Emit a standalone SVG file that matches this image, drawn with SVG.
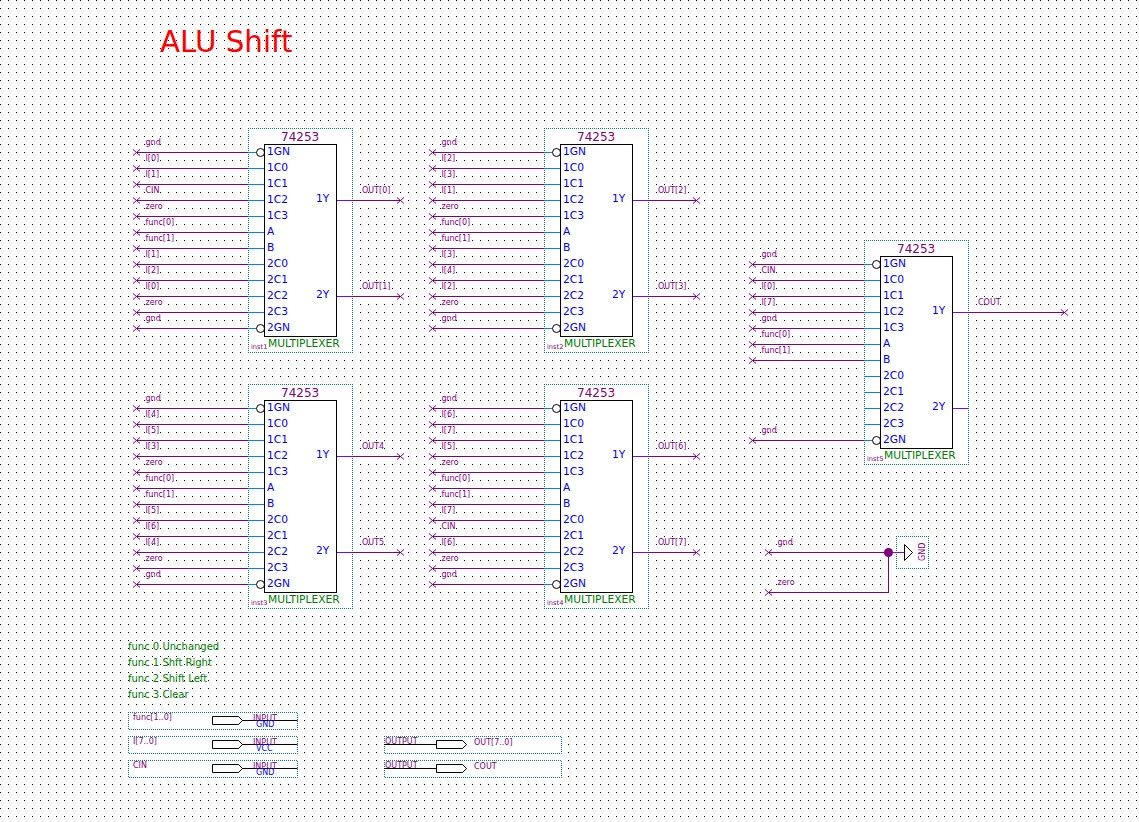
<svg xmlns="http://www.w3.org/2000/svg" width="1139" height="822" viewBox="0 0 1139 822">
<style>
text{font-family:"DejaVu Sans",Verdana,sans-serif}
.frame{fill:#fff;stroke:#008080;stroke-width:1;stroke-dasharray:1 1;stroke-dashoffset:.5}
.box{fill:#fff;stroke:#000;stroke-width:1}
.stub{fill:none;stroke:#0080ff;stroke-width:1}
.ostub{fill:none;stroke:#8000ff;stroke-width:1}
.bub{fill:#fff;stroke:#000;stroke-width:1}
.pin{font-size:10.67px;fill:#0000ff}
.part{font-size:12px;fill:#800080}
.kind{font-size:10.67px;fill:#008000}
.inst{font-size:6.67px;fill:#800080}
.wire{fill:none;stroke:#800080;stroke-width:1}
.in{marker-start:url(#x)}
.out{marker-end:url(#x)}
.lbl{font-size:8px;fill:#800080}
.note{font-size:10px;fill:#008000}
.ty{font-size:8px;fill:#800080}
.def{font-size:8px;fill:#0000ff}
.pinshape{fill:#fff;stroke:#000;stroke-width:1}
.blk{fill:none;stroke:#000;stroke-width:1}
</style>
<defs>
<pattern id="grid" width="8" height="8" patternUnits="userSpaceOnUse"><rect width="1" height="1" fill="#000"/></pattern>
<marker id="x" markerUnits="userSpaceOnUse" markerWidth="10" markerHeight="8" refX="4.5" refY="4" orient="0" overflow="visible"><path d="M1 1L8 7M1 7L8 1" fill="none" stroke="#800080" stroke-width="1"/></marker>
<path id="stubs" d="M-16 8.5H-8M-16 24.5H0M-16 40.5H0M-16 56.5H0M-16 72.5H0M-16 88.5H0M-16 104.5H0M-16 120.5H0M-16 136.5H0M-16 152.5H0M-16 168.5H0M-16 184.5H-8"/>
</defs>
<rect id="background" width="1139" height="822" fill="#fff"/>
<rect id="dot-grid" width="1139" height="822" fill="url(#grid)"/>
<text id="title" x="160" y="52" font-size="29.33" fill="#ff0000">ALU Shift</text>

<g id="inst1" transform="translate(264 144)">
<rect class="frame" x="-15.5" y="-15.5" width="104" height="224"/>
<use href="#stubs" class="stub"/><path class="ostub" d="M72 56.5H88M72 152.5H88"/>
<circle class="bub" cx="-3.5" cy="8.5" r="4"/><circle class="bub" cx="-3.5" cy="184.5" r="4"/>
<rect class="box" x="0.5" y="0.5" width="72" height="192"/>
<text class="part" x="17" y="-3">74253</text>
<g class="pin"><text x="3" y="11">1GN</text><text x="3" y="27">1C0</text><text x="3" y="43">1C1</text><text x="3" y="59">1C2</text><text x="3" y="75">1C3</text><text x="3" y="91">A</text><text x="3" y="107">B</text><text x="3" y="123">2C0</text><text x="3" y="139">2C1</text><text x="3" y="155">2C2</text><text x="3" y="171">2C3</text><text x="3" y="187">2GN</text><text x="52" y="58">1Y</text><text x="52" y="154">2Y</text></g>
<text class="kind" x="4" y="203">MULTIPLEXER</text><text class="inst" x="-13" y="205">inst1</text>
</g>
<g id="inst2" transform="translate(560 144)">
<rect class="frame" x="-15.5" y="-15.5" width="104" height="224"/>
<use href="#stubs" class="stub"/><path class="ostub" d="M72 56.5H88M72 152.5H88"/>
<circle class="bub" cx="-3.5" cy="8.5" r="4"/><circle class="bub" cx="-3.5" cy="184.5" r="4"/>
<rect class="box" x="0.5" y="0.5" width="72" height="192"/>
<text class="part" x="17" y="-3">74253</text>
<g class="pin"><text x="3" y="11">1GN</text><text x="3" y="27">1C0</text><text x="3" y="43">1C1</text><text x="3" y="59">1C2</text><text x="3" y="75">1C3</text><text x="3" y="91">A</text><text x="3" y="107">B</text><text x="3" y="123">2C0</text><text x="3" y="139">2C1</text><text x="3" y="155">2C2</text><text x="3" y="171">2C3</text><text x="3" y="187">2GN</text><text x="52" y="58">1Y</text><text x="52" y="154">2Y</text></g>
<text class="kind" x="4" y="203">MULTIPLEXER</text><text class="inst" x="-13" y="205">inst2</text>
</g>
<g id="inst3" transform="translate(264 400)">
<rect class="frame" x="-15.5" y="-15.5" width="104" height="224"/>
<use href="#stubs" class="stub"/><path class="ostub" d="M72 56.5H88M72 152.5H88"/>
<circle class="bub" cx="-3.5" cy="8.5" r="4"/><circle class="bub" cx="-3.5" cy="184.5" r="4"/>
<rect class="box" x="0.5" y="0.5" width="72" height="192"/>
<text class="part" x="17" y="-3">74253</text>
<g class="pin"><text x="3" y="11">1GN</text><text x="3" y="27">1C0</text><text x="3" y="43">1C1</text><text x="3" y="59">1C2</text><text x="3" y="75">1C3</text><text x="3" y="91">A</text><text x="3" y="107">B</text><text x="3" y="123">2C0</text><text x="3" y="139">2C1</text><text x="3" y="155">2C2</text><text x="3" y="171">2C3</text><text x="3" y="187">2GN</text><text x="52" y="58">1Y</text><text x="52" y="154">2Y</text></g>
<text class="kind" x="4" y="203">MULTIPLEXER</text><text class="inst" x="-13" y="205">inst3</text>
</g>
<g id="inst4" transform="translate(560 400)">
<rect class="frame" x="-15.5" y="-15.5" width="104" height="224"/>
<use href="#stubs" class="stub"/><path class="ostub" d="M72 56.5H88M72 152.5H88"/>
<circle class="bub" cx="-3.5" cy="8.5" r="4"/><circle class="bub" cx="-3.5" cy="184.5" r="4"/>
<rect class="box" x="0.5" y="0.5" width="72" height="192"/>
<text class="part" x="17" y="-3">74253</text>
<g class="pin"><text x="3" y="11">1GN</text><text x="3" y="27">1C0</text><text x="3" y="43">1C1</text><text x="3" y="59">1C2</text><text x="3" y="75">1C3</text><text x="3" y="91">A</text><text x="3" y="107">B</text><text x="3" y="123">2C0</text><text x="3" y="139">2C1</text><text x="3" y="155">2C2</text><text x="3" y="171">2C3</text><text x="3" y="187">2GN</text><text x="52" y="58">1Y</text><text x="52" y="154">2Y</text></g>
<text class="kind" x="4" y="203">MULTIPLEXER</text><text class="inst" x="-13" y="205">inst4</text>
</g>
<g id="inst5" transform="translate(880 256)">
<rect class="frame" x="-15.5" y="-15.5" width="104" height="224"/>
<use href="#stubs" class="stub"/><path class="ostub" d="M72 56.5H88M72 152.5H88"/>
<circle class="bub" cx="-3.5" cy="8.5" r="4"/><circle class="bub" cx="-3.5" cy="184.5" r="4"/>
<rect class="box" x="0.5" y="0.5" width="72" height="192"/>
<text class="part" x="17" y="-3">74253</text>
<g class="pin"><text x="3" y="11">1GN</text><text x="3" y="27">1C0</text><text x="3" y="43">1C1</text><text x="3" y="59">1C2</text><text x="3" y="75">1C3</text><text x="3" y="91">A</text><text x="3" y="107">B</text><text x="3" y="123">2C0</text><text x="3" y="139">2C1</text><text x="3" y="155">2C2</text><text x="3" y="171">2C3</text><text x="3" y="187">2GN</text><text x="52" y="58">1Y</text><text x="52" y="154">2Y</text></g>
<text class="kind" x="4" y="203">MULTIPLEXER</text><text class="inst" x="-13" y="205">inst5</text>
</g>

<g id="gnd-symbol">
<rect class="frame" x="896.5" y="536.5" width="32" height="32"/>
<path class="ostub" d="M893 552.5H904"/>
<path class="pinshape" d="M904.5 544.5L912.5 552.5L904.5 560.5Z"/>
<text class="ty" transform="translate(925 561) rotate(-90)" x="0" y="0">GND</text>
</g>

<g id="connectors">
<g class="wire">
<path class="in" d="M136.5 152.5H248"/><path class="in" d="M136.5 168.5H248"/><path class="in" d="M136.5 184.5H248"/><path class="in" d="M136.5 200.5H248"/><path class="in" d="M136.5 216.5H248"/><path class="in" d="M136.5 232.5H248"/><path class="in" d="M136.5 248.5H248"/><path class="in" d="M136.5 264.5H248"/><path class="in" d="M136.5 280.5H248"/><path class="in" d="M136.5 296.5H248"/><path class="in" d="M136.5 312.5H248"/><path class="in" d="M136.5 328.5H248"/>
<path class="out" d="M352 200.5H400.5"/><path class="out" d="M352 296.5H400.5"/>
<path class="in" d="M432.5 152.5H544"/><path class="in" d="M432.5 168.5H544"/><path class="in" d="M432.5 184.5H544"/><path class="in" d="M432.5 200.5H544"/><path class="in" d="M432.5 216.5H544"/><path class="in" d="M432.5 232.5H544"/><path class="in" d="M432.5 248.5H544"/><path class="in" d="M432.5 264.5H544"/><path class="in" d="M432.5 280.5H544"/><path class="in" d="M432.5 296.5H544"/><path class="in" d="M432.5 312.5H544"/><path class="in" d="M432.5 328.5H544"/>
<path class="out" d="M648 200.5H696.5"/><path class="out" d="M648 296.5H696.5"/>
<path class="in" d="M136.5 408.5H248"/><path class="in" d="M136.5 424.5H248"/><path class="in" d="M136.5 440.5H248"/><path class="in" d="M136.5 456.5H248"/><path class="in" d="M136.5 472.5H248"/><path class="in" d="M136.5 488.5H248"/><path class="in" d="M136.5 504.5H248"/><path class="in" d="M136.5 520.5H248"/><path class="in" d="M136.5 536.5H248"/><path class="in" d="M136.5 552.5H248"/><path class="in" d="M136.5 568.5H248"/><path class="in" d="M136.5 584.5H248"/>
<path class="out" d="M352 456.5H400.5"/><path class="out" d="M352 552.5H400.5"/>
<path class="in" d="M432.5 408.5H544"/><path class="in" d="M432.5 424.5H544"/><path class="in" d="M432.5 440.5H544"/><path class="in" d="M432.5 456.5H544"/><path class="in" d="M432.5 472.5H544"/><path class="in" d="M432.5 488.5H544"/><path class="in" d="M432.5 504.5H544"/><path class="in" d="M432.5 520.5H544"/><path class="in" d="M432.5 536.5H544"/><path class="in" d="M432.5 552.5H544"/><path class="in" d="M432.5 568.5H544"/><path class="in" d="M432.5 584.5H544"/>
<path class="out" d="M648 456.5H696.5"/><path class="out" d="M648 552.5H696.5"/>
<path class="in" d="M752.5 264.5H864"/><path class="in" d="M752.5 280.5H864"/><path class="in" d="M752.5 296.5H864"/><path class="in" d="M752.5 312.5H864"/><path class="in" d="M752.5 328.5H864"/><path class="in" d="M752.5 344.5H864"/><path class="in" d="M752.5 360.5H864"/><path class="in" d="M752.5 440.5H864"/>
<path class="out" d="M968 312.5H1064.5"/>
<path class="in" d="M768.5 552.5H888.5"/><path class="in" d="M768.5 592.5H888.5V552.5"/>
</g>
<circle cx="888.5" cy="552.5" r="4.5" fill="#800080"/>
<g class="lbl">
<text x="145.5" y="145">gnd</text><text x="145.5" y="161">I[0]</text><text x="145.5" y="177">I[1]</text><text x="145.5" y="193">CIN</text><text x="145.5" y="209">zero</text><text x="145.5" y="225">func[0]</text><text x="145.5" y="241">func[1]</text><text x="145.5" y="257">I[1]</text><text x="145.5" y="273">I[2]</text><text x="145.5" y="289">I[0]</text><text x="145.5" y="305">zero</text><text x="145.5" y="321">gnd</text>
<text x="362" y="193">OUT[0]</text><text x="362" y="289">OUT[1]</text>
<text x="441.5" y="145">gnd</text><text x="441.5" y="161">I[2]</text><text x="441.5" y="177">I[3]</text><text x="441.5" y="193">I[1]</text><text x="441.5" y="209">zero</text><text x="441.5" y="225">func[0]</text><text x="441.5" y="241">func[1]</text><text x="441.5" y="257">I[3]</text><text x="441.5" y="273">I[4]</text><text x="441.5" y="289">I[2]</text><text x="441.5" y="305">zero</text><text x="441.5" y="321">gnd</text>
<text x="658" y="193">OUT[2]</text><text x="658" y="289">OUT[3]</text>
<text x="145.5" y="401">gnd</text><text x="145.5" y="417">I[4]</text><text x="145.5" y="433">I[5]</text><text x="145.5" y="449">I[3]</text><text x="145.5" y="465">zero</text><text x="145.5" y="481">func[0]</text><text x="145.5" y="497">func[1]</text><text x="145.5" y="513">I[5]</text><text x="145.5" y="529">I[6]</text><text x="145.5" y="545">I[4]</text><text x="145.5" y="561">zero</text><text x="145.5" y="577">gnd</text>
<text x="362" y="449">OUT4</text><text x="362" y="545">OUT5</text>
<text x="441.5" y="401">gnd</text><text x="441.5" y="417">I[6]</text><text x="441.5" y="433">I[7]</text><text x="441.5" y="449">I[5]</text><text x="441.5" y="465">zero</text><text x="441.5" y="481">func[0]</text><text x="441.5" y="497">func[1]</text><text x="441.5" y="513">I[7]</text><text x="441.5" y="529">CIN</text><text x="441.5" y="545">I[6]</text><text x="441.5" y="561">zero</text><text x="441.5" y="577">gnd</text>
<text x="658" y="449">OUT[6]</text><text x="658" y="545">OUT[7]</text>
<text x="761.5" y="257">gnd</text><text x="761.5" y="273">CIN</text><text x="761.5" y="289">I[0]</text><text x="761.5" y="305">I[7]</text><text x="761.5" y="321">gnd</text><text x="761.5" y="337">func[0]</text><text x="761.5" y="353">func[1]</text><text x="761.5" y="433">gnd</text>
<text x="978" y="305">COUT</text>
<text x="777.5" y="545">gnd</text><text x="777.5" y="585">zero</text>
</g>
</g>

<g id="notes" class="note">
<text x="128" y="650">func 0 Unchanged</text><text x="128" y="666">func 1 Shft Right</text><text x="128" y="682">func 2 Shift Left</text><text x="128" y="698">func 3 Clear</text>
</g>

<g id="pin-func">
<rect class="frame" x="128.5" y="712.5" width="169" height="17"/>
<path class="blk" d="M240 720.5H297.5"/><path class="pinshape" d="M212.5 716.5H238.5L242.5 720.5L238.5 724.5H212.5Z"/>
<text class="lbl" x="133" y="720">func[1..0]</text><text class="ty" x="253" y="721">INPUT</text><text class="def" x="256" y="727">GND</text>
</g>
<g id="pin-i">
<rect class="frame" x="128.5" y="736.5" width="169" height="17"/>
<path class="blk" d="M240 744.5H297.5"/><path class="pinshape" d="M212.5 740.5H238.5L242.5 744.5L238.5 748.5H212.5Z"/>
<text class="lbl" x="133" y="744">I[7..0]</text><text class="ty" x="253" y="745">INPUT</text><text class="def" x="256" y="751">VCC</text>
</g>
<g id="pin-cin">
<rect class="frame" x="128.5" y="760.5" width="169" height="17"/>
<path class="blk" d="M240 768.5H297.5"/><path class="pinshape" d="M212.5 764.5H238.5L242.5 768.5L238.5 772.5H212.5Z"/>
<text class="lbl" x="133" y="768">CIN</text><text class="ty" x="253" y="769">INPUT</text><text class="def" x="256" y="775">GND</text>
</g>
<g id="pin-out">
<rect class="frame" x="384.5" y="736.5" width="177" height="17"/>
<path class="blk" d="M384 744.5H437"/><path class="pinshape" d="M436.5 740.5H462.5L466.5 744.5L462.5 748.5H436.5Z"/>
<text class="ty" x="385" y="744">OUTPUT</text><text class="lbl" x="474" y="745">OUT[7..0]</text>
</g>
<g id="pin-cout">
<rect class="frame" x="384.5" y="760.5" width="177" height="17"/>
<path class="blk" d="M384 768.5H437"/><path class="pinshape" d="M436.5 764.5H462.5L466.5 768.5L462.5 772.5H436.5Z"/>
<text class="ty" x="385" y="768">OUTPUT</text><text class="lbl" x="474" y="769">COUT</text>
</g>
</svg>
